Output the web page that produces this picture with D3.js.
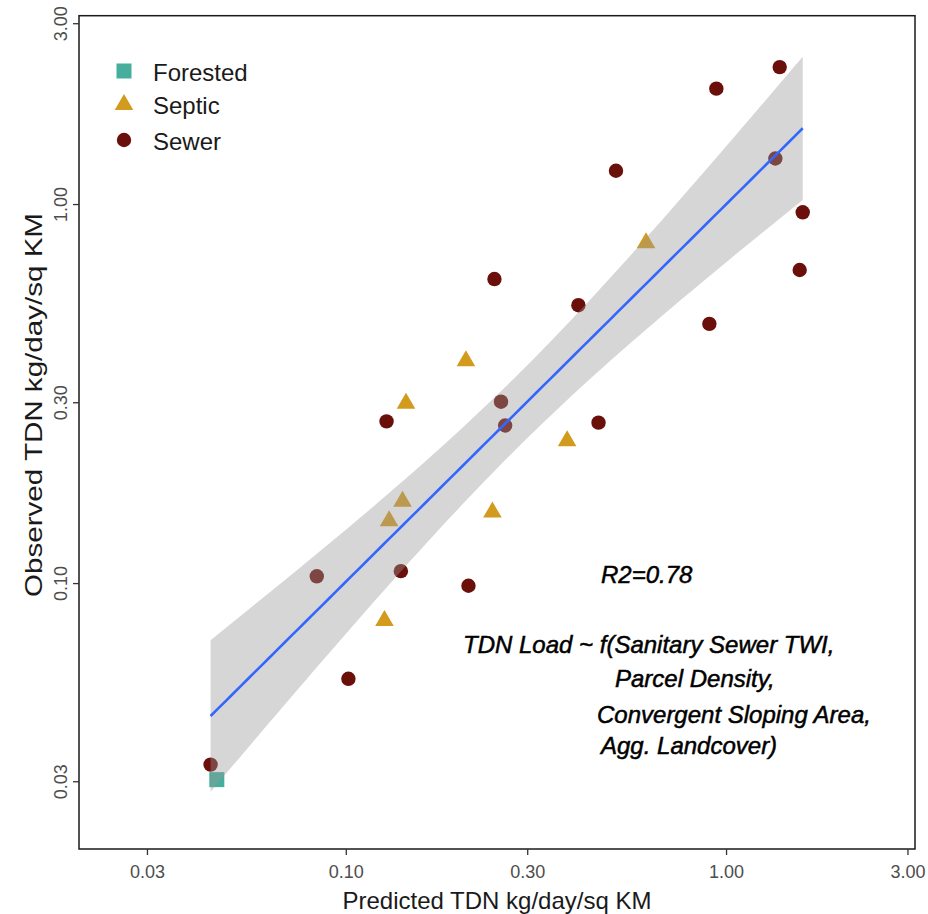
<!DOCTYPE html>
<html>
<head>
<meta charset="utf-8">
<script src="https://cdn.jsdelivr.net/npm/d3@7"></script>
<style>
  html, body { margin: 0; padding: 0; background: #fff; }
  svg { display: block; font-family: "Liberation Sans", Arial, sans-serif; }
  .ticklab { font-size: 18px !important; font-family: "Liberation Sans", Arial, sans-serif; fill: #4d4d4d; }
</style>
</head>
<body>
<svg id="chart" width="928" height="914"></svg>
<script>
// ---------------- data ----------------
const groups = ["Forested", "Septic", "Sewer"];

const forestedPred = [0.0458];
const forestedObs  = [0.0303];

const septicPred = [0.207, 0.144, 0.141, 0.130, 0.243, 0.1264, 0.616, 0.382];
const septicObs  = [0.387, 0.299, 0.165, 0.1465, 0.1544, 0.0799, 0.793, 0.238];

const sewerPred = [0.0441, 0.0839, 0.1396, 0.2102, 0.1016, 0.128, 1.384, 0.943, 0.5135,
                   1.348, 1.591, 1.562, 0.246, 0.409, 0.904, 0.256, 0.2625, 0.462];
const sewerObs  = [0.0332, 0.1042, 0.1075, 0.0984, 0.0559, 0.267, 2.298, 2.016, 1.224,
                   1.319, 0.951, 0.670, 0.634, 0.541, 0.483, 0.301, 0.2605, 0.265];

const tickValues = [0.03, 0.1, 0.3, 1, 3];
const tickLabels = ["0.03", "0.10", "0.30", "1.00", "3.00"];

const xTitle = "Predicted TDN kg/day/sq KM";
const yTitle = "Observed TDN kg/day/sq KM";
const r2Label = "R2=0.78";
const formulaLines = ["TDN Load ~ f(Sanitary Sewer TWI,", "Parcel Density,",
                      "Convergent Sloping Area,", "Agg. Landcover)"];

// ---------------- styles / layout ----------------
const colors = { Forested: "#45ae9c", Septic: "#d29b1e", Sewer: "#6b0f0a" };
const panel = { left: 79, right: 915, top: 15.7, bottom: 849 };
const domain = [0.01988, 3.14];

const points = [];
forestedPred.forEach((v, i) => points.push({ g: "Forested", x: v, y: forestedObs[i] }));
septicPred.forEach((v, i) => points.push({ g: "Septic", x: v, y: septicObs[i] }));
sewerPred.forEach((v, i) => points.push({ g: "Sewer", x: v, y: sewerObs[i] }));

const svg = d3.select("#chart");
const x = d3.scaleLog().domain(domain).range([panel.left, panel.right]);
const y = d3.scaleLog().domain(domain).range([panel.bottom, panel.top]);

function symbolPath(g, s) {
  if (g === "Forested") { const h = 7.5 * s; return `M${-h},${-h}H${h}V${h}H${-h}Z`; }
  if (g === "Septic") { return `M0,${-10 * s}L${9.3 * s},${6 * s}L${-9.3 * s},${6 * s}Z`; }
  return d3.arc()({ innerRadius: 0, outerRadius: 7.2 * s, startAngle: 0, endAngle: 2 * Math.PI });
}

// ---------------- points ----------------
const plot = svg.append("g");
plot.selectAll("path.pt").data(points).join("path")
  .attr("class", "pt")
  .attr("transform", d => `translate(${x(d.x)},${y(d.y)})`)
  .attr("d", d => symbolPath(d.g, 1))
  .attr("fill", d => colors[d.g]);

// ---------------- linear fit in log space (geom_smooth lm) ----------------
const lx = points.map(p => Math.log10(p.x));
const ly = points.map(p => Math.log10(p.y));
const n = lx.length;
const mx = d3.mean(lx), my = d3.mean(ly);
let sxx = 0, sxy = 0;
for (let i = 0; i < n; i++) { sxx += (lx[i] - mx) ** 2; sxy += (lx[i] - mx) * (ly[i] - my); }
const b = sxy / sxx, a = my - b * mx;
let sse = 0;
for (let i = 0; i < n; i++) sse += (ly[i] - (a + b * lx[i])) ** 2;
const s = Math.sqrt(sse / (n - 2));
const tCrit = 2.0595; // t(0.975, df = 25)
const [xmin, xmax] = d3.extent(lx);
const grid = d3.range(0, 81).map(k => xmin + (xmax - xmin) * k / 80);
const band = grid.map(g => {
  const fit = a + b * g;
  const se = s * Math.sqrt(1 / n + (g - mx) ** 2 / sxx);
  return { x: 10 ** g, fit: 10 ** fit, lo: 10 ** (fit - tCrit * se), hi: 10 ** (fit + tCrit * se) };
});

plot.append("path").datum(band)
  .attr("d", d3.area().x(d => x(d.x)).y0(d => y(d.lo)).y1(d => y(d.hi)))
  .attr("fill", "#999999").attr("fill-opacity", 0.4);

plot.append("path").datum(band)
  .attr("d", d3.line().x(d => x(d.x)).y(d => y(d.fit)))
  .attr("fill", "none").attr("stroke", "#3366ff").attr("stroke-width", 2.6);

// ---------------- panel border ----------------
svg.append("rect")
  .attr("x", panel.left).attr("y", panel.top)
  .attr("width", panel.right - panel.left).attr("height", panel.bottom - panel.top)
  .attr("fill", "none").attr("stroke", "#1a1a1a").attr("stroke-width", 1.5);

// ---------------- axes ----------------
const xAxis = d3.axisBottom(x).tickValues(tickValues)
  .tickFormat((d, i) => tickLabels[i]).tickSize(6).tickSizeOuter(0).tickPadding(6);
const gx = svg.append("g").attr("transform", `translate(0,${panel.bottom})`).call(xAxis);
gx.attr("font-size", 18).attr("font-family", "Liberation Sans, Arial, sans-serif");
gx.select(".domain").remove();
gx.selectAll(".tick line").attr("stroke", "#333").attr("stroke-width", 1.3);
gx.selectAll(".tick text").attr("class", "ticklab")
  .attr("dy", null).attr("y", 29);

const yAxis = d3.axisLeft(y).tickValues(tickValues)
  .tickFormat((d, i) => tickLabels[i]).tickSize(6).tickSizeOuter(0);
const gy = svg.append("g").attr("transform", `translate(${panel.left},0)`).call(yAxis);
gy.attr("font-size", 18).attr("font-family", "Liberation Sans, Arial, sans-serif");
gy.select(".domain").remove();
gy.selectAll(".tick line").attr("stroke", "#333").attr("stroke-width", 1.3);
gy.selectAll(".tick text").attr("class", "ticklab")
  .attr("x", null).attr("y", null).attr("dy", null)
  .attr("text-anchor", "middle")
  .attr("transform", "translate(-12,0) rotate(-90)");

// ---------------- titles ----------------
svg.append("text")
  .attr("x", (panel.left + panel.right) / 2).attr("y", 909)
  .attr("text-anchor", "middle").attr("font-size", 24).attr("fill", "#1a1a1a")
  .text(xTitle);

svg.append("text")
  .attr("transform", "translate(42,405) rotate(-90)")
  .attr("text-anchor", "middle").attr("font-size", 24).attr("fill", "#1a1a1a")
  .attr("textLength", 384).attr("lengthAdjust", "spacingAndGlyphs")
  .text(yTitle);

// ---------------- legend ----------------
const legY = [71, 104, 140];
const leg = svg.append("g").selectAll("g").data(groups).join("g")
  .attr("transform", (d, i) => `translate(124,${legY[i]})`);
leg.append("path").attr("d", d => symbolPath(d, 1)).attr("fill", d => colors[d]);
leg.append("text").attr("x", 29).attr("y", 9.5)
  .attr("font-size", 24).attr("fill", "#1a1a1a").text(d => d);

// ---------------- annotations ----------------
svg.append("text").attr("x", 601).attr("y", 583)
  .attr("font-size", 24).attr("font-style", "italic").attr("fill", "#000")
  .attr("stroke", "#000").attr("stroke-width", 0.5)
  .text(r2Label);

const formulaPos = [[463, 653], [615, 687], [597, 723], [601, 754]];
svg.append("g").selectAll("text").data(formulaLines).join("text")
  .attr("x", (d, i) => formulaPos[i][0]).attr("y", (d, i) => formulaPos[i][1])
  .attr("font-size", 24).attr("font-style", "italic").attr("fill", "#000")
  .attr("stroke", "#000").attr("stroke-width", 0.5)
  .text(d => d);
</script>
</body>
</html>
